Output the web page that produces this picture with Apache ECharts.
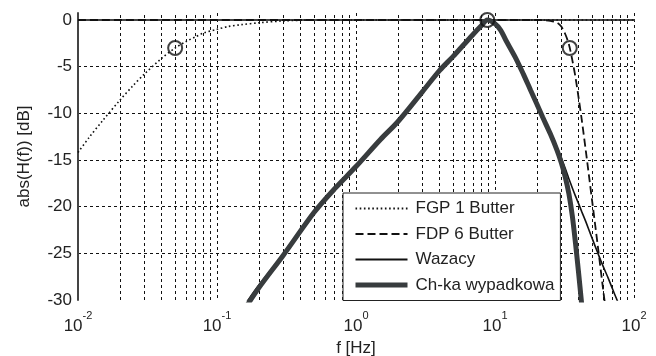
<!DOCTYPE html>
<html>
<head>
<meta charset="utf-8">
<script src="https://cdn.jsdelivr.net/npm/echarts@6/dist/echarts.min.js"></script>
<style>
  html, body { margin: 0; padding: 0; background: #fff; }
  #chart { width: 656px; height: 356px; }
</style>
</head>
<body>
<div id="chart"></div>
<script>
// FGP 1 Butter (high-pass)
var fgpFreq = [0.01, 0.012, 0.015, 0.02, 0.025, 0.03, 0.04, 0.05, 0.06, 0.07, 0.08, 0.1, 0.12, 0.15, 0.2, 0.3, 0.5, 1, 100];
var fgpDb   = [-14.2, -12.6, -10.8, -8.6, -7.0, -5.8, -4.1, -3.0, -2.3, -1.8, -1.4, -1.0, -0.7, -0.5, -0.3, -0.1, 0, 0, 0];

// FDP 6 Butter (low-pass)
var fdpFreq = [0.01, 10, 20, 22, 25, 28, 30, 32, 34, 36, 38, 40, 42, 45, 48, 50, 55, 60, 65];
var fdpDb   = [0, 0, 0, -0.02, -0.1, -0.3, -0.7, -1.5, -2.6, -4.3, -6.2, -8.4, -10.6, -14.0, -17.3, -19.4, -24.3, -28.9, -33.0];

// Wazacy (weighting)
var wazFreq = [0.1, 0.15, 0.2, 0.3, 0.5, 0.7, 1, 1.5, 2, 3, 4, 5, 6, 7, 8, 8.8, 10, 11, 12, 14, 16, 18, 20, 22, 25, 28, 30, 32, 34, 36, 38, 40, 42, 45, 48, 50, 55, 60, 65, 70, 75, 80, 90, 100];
var wazDb   = [-34.5, -31.0, -28.4, -25.1, -20.6, -18.1, -15.7, -12.8, -10.9, -7.7, -5.4, -3.9, -2.6, -1.5, -0.6, 0, -0.4, -1.1, -2.2, -4.0, -5.8, -7.5, -9.0, -10.4, -12.1, -13.7, -14.8, -15.9, -17.0, -18.0, -18.9, -19.7, -20.5, -21.6, -22.7, -23.4, -25.0, -26.4, -27.6, -28.8, -29.9, -30.9, -32.8, -34.5];

// Ch-ka wypadkowa (resulting)
var sumFreq = [0.15, 0.2, 0.3, 0.5, 0.7, 1, 1.5, 2, 3, 4, 5, 6, 7, 8, 8.8, 10, 11, 12, 14, 16, 18, 20, 22, 25, 28, 30, 32, 34, 36, 38, 40, 42, 45];
var sumDb   = [-31.5, -28.7, -25.2, -20.6, -18.1, -15.7, -12.8, -10.9, -7.7, -5.4, -3.9, -2.6, -1.5, -0.6, 0, -0.4, -1.1, -2.2, -4.0, -5.8, -7.5, -9.0, -10.4, -12.2, -14.0, -15.3, -16.8, -18.6, -21.0, -24.0, -27.2, -30.4, -35.0];

// circled points
var markFreq = [0.05, 8.8, 34.5];
var markDb   = [-3, 0, -3];

var decades = [0.01, 0.1, 1, 10];
var minorSteps = [2, 3, 4, 5, 6, 7, 8, 9];

function pairs(xs, ys) {
  return xs.map(function (x, i) { return [x, ys[i]]; });
}

var minorLines = [];
decades.forEach(function (d) {
  minorSteps.forEach(function (m) { minorLines.push({ xAxis: +(d * m).toPrecision(3) }); });
});

var font = 'Liberation Sans, Arial, Helvetica, sans-serif';
var gridStyle = { color: '#111', width: 1, type: [3, 3] };
var grayLine = '#383c3e';

var myChart = echarts.init(document.getElementById('chart'));
var option = {
  animation: false,
  grid: { left: 78, right: 22, top: 13, bottom: 56, outerBoundsMode: 'none', containLabel: false },
  textStyle: { fontFamily: font },
  legend: {
    data: [
      { name: 'FGP 1 Butter' },
      { name: 'FDP 6 Butter' },
      { name: 'Wazacy', lineStyle: { width: 2 } },
      { name: 'Ch-ka wypadkowa', lineStyle: { width: 5, color: grayLine } }
    ],
    orient: 'vertical',
    left: 343,
    top: 193,
    z: 20,
    padding: [7, 6, 7, 10],
    itemWidth: 52,
    itemHeight: 14,
    itemGap: 8.5,
    backgroundColor: '#fff',
    borderColor: '#222',
    borderWidth: 1,
    borderRadius: 0,
    itemStyle: { opacity: 0 },
    textStyle: { fontSize: 17, color: '#222', padding: [0, 0, 0, 3], fontFamily: font }
  },
  xAxis: {
    type: 'log',
    logBase: 10,
    min: 0.01,
    max: 100,
    name: 'f [Hz]',
    nameLocation: 'middle',
    nameGap: 39,
    nameTextStyle: { fontSize: 17, color: '#222' },
    axisLine: { lineStyle: { color: '#444', width: 2 } },
    axisTick: { show: false },
    axisLabel: {
      margin: 10,
      formatter: function (v) {
        var e = Math.round(Math.log10(v));
        return '{b|10}{s|' + e + '}';
      },
      rich: {
        b: { fontSize: 17, color: '#222', verticalAlign: 'bottom', lineHeight: 25 },
        s: { fontSize: 11, color: '#222', verticalAlign: 'top', lineHeight: 11 }
      }
    },
    splitLine: { show: true, showMinLine: false, lineStyle: gridStyle }
  },
  yAxis: {
    type: 'value',
    min: -30,
    max: 0.75,
    interval: 5,
    name: 'abs(H(f)) [dB]',
    nameLocation: 'middle',
    nameGap: 45,
    nameTextStyle: { fontSize: 17, color: '#222' },
    axisLine: { show: true, lineStyle: { color: '#444', width: 2 } },
    axisTick: { show: false },
    axisLabel: {
      fontSize: 17,
      color: '#222',
      margin: 6,
      showMaxLabel: false,
      formatter: function (v) { return v % 5 === 0 ? String(v) : ''; }
    },
    splitLine: { show: true, showMinLine: false, showMaxLine: false, lineStyle: gridStyle }
  },
  series: [
    {
      name: 'minor',
      type: 'line',
      data: [],
      silent: true,
      z: 1,
      markLine: {
        silent: true,
        z: 1,
        symbol: 'none',
        label: { show: false },
        lineStyle: gridStyle,
        data: minorLines
      }
    },
    {
      name: 'FGP 1 Butter',
      type: 'line',
      data: pairs(fgpFreq, fgpDb),
      symbol: 'none',
      smooth: 0.3,
      lineStyle: { color: '#111', width: 1.6, type: [1.6, 2.6] },
      itemStyle: { color: '#111' }
    },
    {
      name: 'FDP 6 Butter',
      type: 'line',
      data: pairs(fdpFreq, fdpDb),
      symbol: 'none',
      smooth: 0.3,
      lineStyle: { color: '#111', width: 1.8, type: [8, 4] },
      itemStyle: { color: '#111' }
    },
    {
      name: 'Wazacy',
      type: 'line',
      data: pairs(wazFreq, wazDb),
      symbol: 'none',
      smooth: 0.3,
      lineStyle: { color: '#111', width: 1.6 },
      itemStyle: { color: '#111' }
    },
    {
      name: 'Ch-ka wypadkowa',
      type: 'line',
      data: pairs(sumFreq, sumDb),
      symbol: 'none',
      smooth: 0.3,
      lineStyle: { color: grayLine, width: 5 },
      itemStyle: { color: grayLine }
    },
    {
      name: 'punkty',
      type: 'scatter',
      data: pairs(markFreq, markDb),
      symbol: 'circle',
      symbolSize: 14,
      z: 5,
      itemStyle: { color: 'rgba(0,0,0,0)', borderColor: '#111', borderWidth: 2 }
    }
  ]
};
myChart.setOption(option);
</script>
</body>
</html>
